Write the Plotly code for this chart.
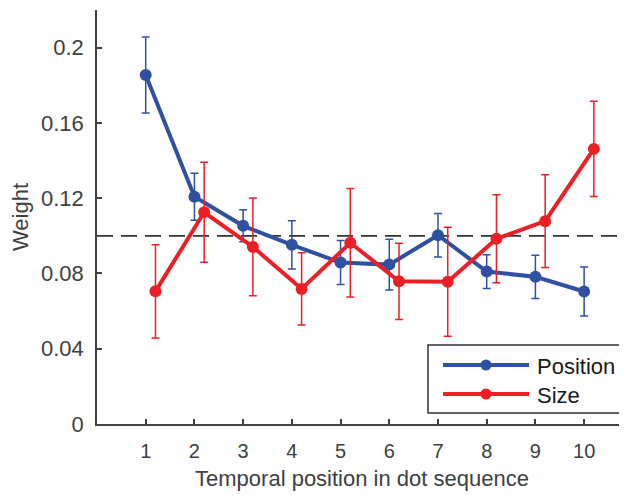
import plotly.graph_objects as go

positions = [1, 2, 3, 4, 5, 6, 7, 8, 9, 10]
size_offset = 0.2

position_w = [0.1855, 0.1208, 0.1053, 0.0952, 0.0858, 0.0847, 0.1003, 0.0810, 0.0782, 0.0704]
position_err = [0.0202, 0.0125, 0.0085, 0.0128, 0.0117, 0.0135, 0.0115, 0.0090, 0.0115, 0.0130]

size_w = [0.0705, 0.1125, 0.0941, 0.0718, 0.0963, 0.0758, 0.0756, 0.0984, 0.1078, 0.1462]
size_err = [0.0248, 0.0266, 0.0260, 0.0192, 0.0288, 0.0203, 0.0290, 0.0234, 0.0247, 0.0253]

chance = 0.1
y_ticks = [0, 0.04, 0.08, 0.12, 0.16, 0.2]
y_tick_labels = ["0", "0.04", "0.08", "0.12", "0.16", "0.2"]
series_names = ["Position", "Size"]

blue = "#3050A2"
red = "#EC1F27"
axis_col = "#404040"
font_family = "Liberation Sans, Arial, sans-serif"

# page body has an 8px margin; work in screen pixels and shift
OFF = 8
SW, SH = 627, 495
W, H = SW - OFF, SH - OFF
# plot area in screen pixels
SL, SR, ST, SB = 97, 627, 10, 424


def px(xs):
    return (xs - SL) / (SR - SL)


def py(ys):
    return (SB - ys) / (SB - ST)


fig = go.Figure()

fig.add_trace(go.Scatter(
    x=[0, 11], y=[chance, chance], mode="lines",
    line=dict(color="#333333", width=1.7, dash="16px,8px"),
    showlegend=False, hoverinfo="skip"))

fig.add_trace(go.Scatter(
    x=positions, y=position_w, mode="lines+markers", name=series_names[0],
    line=dict(color=blue, width=4),
    marker=dict(color=blue, size=12),
    error_y=dict(type="data", array=position_err, visible=True,
                 color=blue, thickness=1.5, width=4),
    showlegend=False))

fig.add_trace(go.Scatter(
    x=[p + size_offset for p in positions], y=size_w, mode="lines+markers", name=series_names[1],
    line=dict(color=red, width=4),
    marker=dict(color=red, size=12),
    error_y=dict(type="data", array=size_err, visible=True,
                 color=red, thickness=1.5, width=4),
    showlegend=False))

# manual legend (MATLAB style, long line samples)
shapes = [dict(type="rect", xref="paper", yref="paper",
               x0=px(428), x1=px(624), y0=py(413), y1=py(345),
               fillcolor="white", line=dict(color="#333333", width=1.5), layer="above")]
annotations = []
for name, col, yl in [(series_names[0], blue, 365), (series_names[1], red, 394)]:
    shapes.append(dict(type="line", xref="paper", yref="paper",
                       x0=px(443), x1=px(529), y0=py(yl), y1=py(yl),
                       line=dict(color=col, width=4), layer="above"))
    shapes.append(dict(type="circle", xref="paper", yref="paper",
                       xsizemode="pixel", ysizemode="pixel",
                       xanchor=px(486), yanchor=py(yl),
                       x0=-5.5, x1=5.5, y0=-5.5, y1=5.5,
                       fillcolor=col, line=dict(color=col, width=0), layer="above"))
    annotations.append(dict(xref="paper", yref="paper", x=px(535), y=py(yl + 1),
                            xanchor="left", yanchor="middle", showarrow=False,
                            text=name, font=dict(size=22, color="#1a1a1a", family=font_family)))

fig.update_layout(
    width=W, height=H,
    margin=dict(l=SL - OFF, r=SW - SR, t=ST - OFF, b=SH - SB),
    paper_bgcolor="white", plot_bgcolor="white",
    font=dict(family=font_family, size=19, color=axis_col),
    showlegend=False,
    shapes=shapes, annotations=annotations,
    xaxis=dict(
        range=[0, 10.88], tickvals=positions, ticktext=[str(p) for p in positions],
        ticks="inside", ticklen=5, tickwidth=1.5, tickcolor=axis_col,
        showline=True, linecolor=axis_col, linewidth=1.5, showgrid=False, zeroline=False,
        automargin=False, ticklabelstandoff=8,
        title=dict(text="Temporal position in dot sequence", standoff=10,
                   font=dict(size=22, color=axis_col)),
        tickfont=dict(size=20, color=axis_col)),
    yaxis=dict(
        range=[0, 0.22], tickvals=y_ticks, ticktext=y_tick_labels,
        ticks="inside", ticklen=5, tickwidth=1.5, tickcolor=axis_col,
        showline=True, linecolor=axis_col, linewidth=1.5, showgrid=False, zeroline=False,
        automargin=False, ticklabelstandoff=7,
        title=dict(text="Weight", standoff=6, font=dict(size=22, color=axis_col)),
        tickfont=dict(size=22, color=axis_col)),
)

fig.write_html("out.html")
